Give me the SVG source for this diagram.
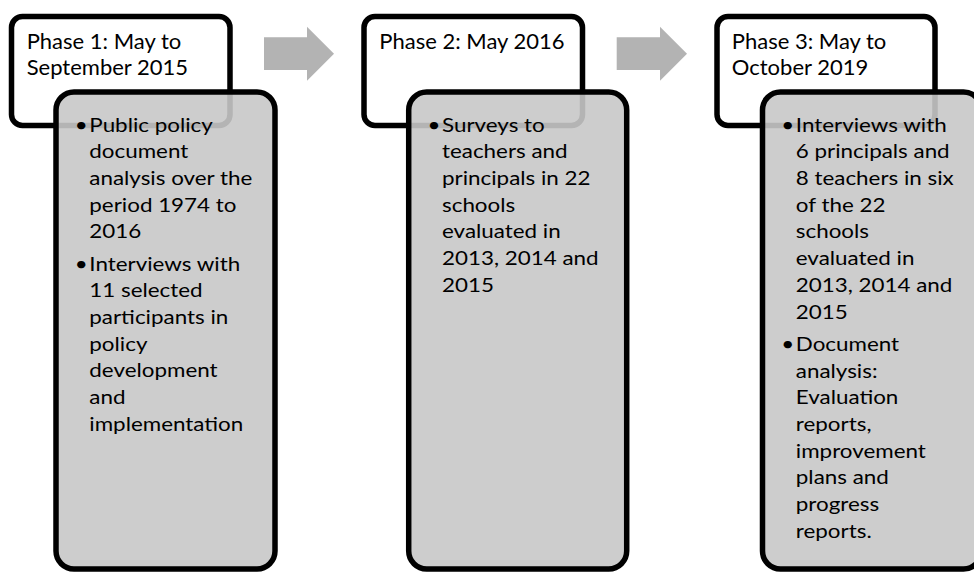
<svg xmlns="http://www.w3.org/2000/svg" width="974" height="572" viewBox="0 0 974 572">
<defs>
<style>
.hdr{fill:#fff;stroke:#000;stroke-width:5.5}
.body{fill:#c8c8c8;fill-opacity:0.9;stroke:#000;stroke-width:5.5}
.arrow{fill:#b3b3b3}
.ht{font-family:Lato,"Liberation Sans",sans-serif;font-size:22px;fill:#000}
.bt{font-family:Lato,"Liberation Sans",sans-serif;font-size:20px;fill:#000}
</style>
</defs>
<rect width="974" height="572" fill="#fff"/>
<g id="connectors">
<polygon class="arrow" points="264,37.3 307,37.3 307,26.7 334,53.7 307,80.7 307,70 264,70"/>
<polygon class="arrow" points="616.7,37.3 660,37.3 660,26.7 687,53.7 660,80.7 660,70 616.7,70"/>
</g>
<g id="phase1">
<rect class="hdr" x="11.5" y="16.5" width="218.5" height="109" rx="11"/>
<text class="ht" x="26.7" y="49.3">Phase 1: May to</text>
<text class="ht" x="26.7" y="75">September 2015</text>
<rect class="body" x="56" y="92" width="219" height="477" rx="18"/>
<g class="bt" transform="translate(89.3 0) scale(1.12 1)">
<text x="-13" y="131.7">•</text>
<text x="0" y="131.7">Public policy</text>
<text x="0" y="158.4">document</text>
<text x="0" y="185.1">analysis over the</text>
<text x="0" y="211.8">period 1974 to</text>
<text x="0" y="238.5">2016</text>
<text x="-13" y="270.7">•</text>
<text x="0" y="270.7">Interviews with</text>
<text x="0" y="297.4">11 selected</text>
<text x="0" y="324.1">participants in</text>
<text x="0" y="350.8">policy</text>
<text x="0" y="377.5">development</text>
<text x="0" y="404.2">and</text>
<text x="0" y="430.9">implementation</text>
</g>
</g>
<g id="phase2">
<rect class="hdr" x="364" y="16.5" width="218.5" height="109" rx="11"/>
<text class="ht" x="379.3" y="49.3">Phase 2: May 2016</text>
<rect class="body" x="408.7" y="92" width="218" height="477" rx="18"/>
<g class="bt" transform="translate(442 0) scale(1.12 1)">
<text x="-13" y="131.7">•</text>
<text x="0" y="131.7">Surveys to</text>
<text x="0" y="158.4">teachers and</text>
<text x="0" y="185.1">principals in 22</text>
<text x="0" y="211.8">schools</text>
<text x="0" y="238.5">evaluated in</text>
<text x="0" y="265.2">2013, 2014 and</text>
<text x="0" y="291.9">2015</text>
</g>
</g>
<g id="phase3">
<rect class="hdr" x="717" y="16.5" width="218" height="109" rx="11"/>
<text class="ht" x="731.8" y="49.3">Phase 3: May to</text>
<text class="ht" x="731.8" y="75">October 2019</text>
<rect class="body" x="762.5" y="92" width="219" height="477" rx="18"/>
<g class="bt" transform="translate(795.8 0) scale(1.12 1)">
<text x="-13" y="131.7">•</text>
<text x="0" y="131.7">Interviews with</text>
<text x="0" y="158.4">6 principals and</text>
<text x="0" y="185.1">8 teachers in six</text>
<text x="0" y="211.8">of the 22</text>
<text x="0" y="238.5">schools</text>
<text x="0" y="265.2">evaluated in</text>
<text x="0" y="291.9">2013, 2014 and</text>
<text x="0" y="318.6">2015</text>
<text x="-13" y="351">•</text>
<text x="0" y="351">Document</text>
<text x="0" y="377.7">analysis:</text>
<text x="0" y="404.4">Evaluation</text>
<text x="0" y="431.1">reports,</text>
<text x="0" y="457.8">improvement</text>
<text x="0" y="484.5">plans and</text>
<text x="0" y="511.2">progress</text>
<text x="0" y="537.9">reports.</text>
</g>
</g>
</svg>
